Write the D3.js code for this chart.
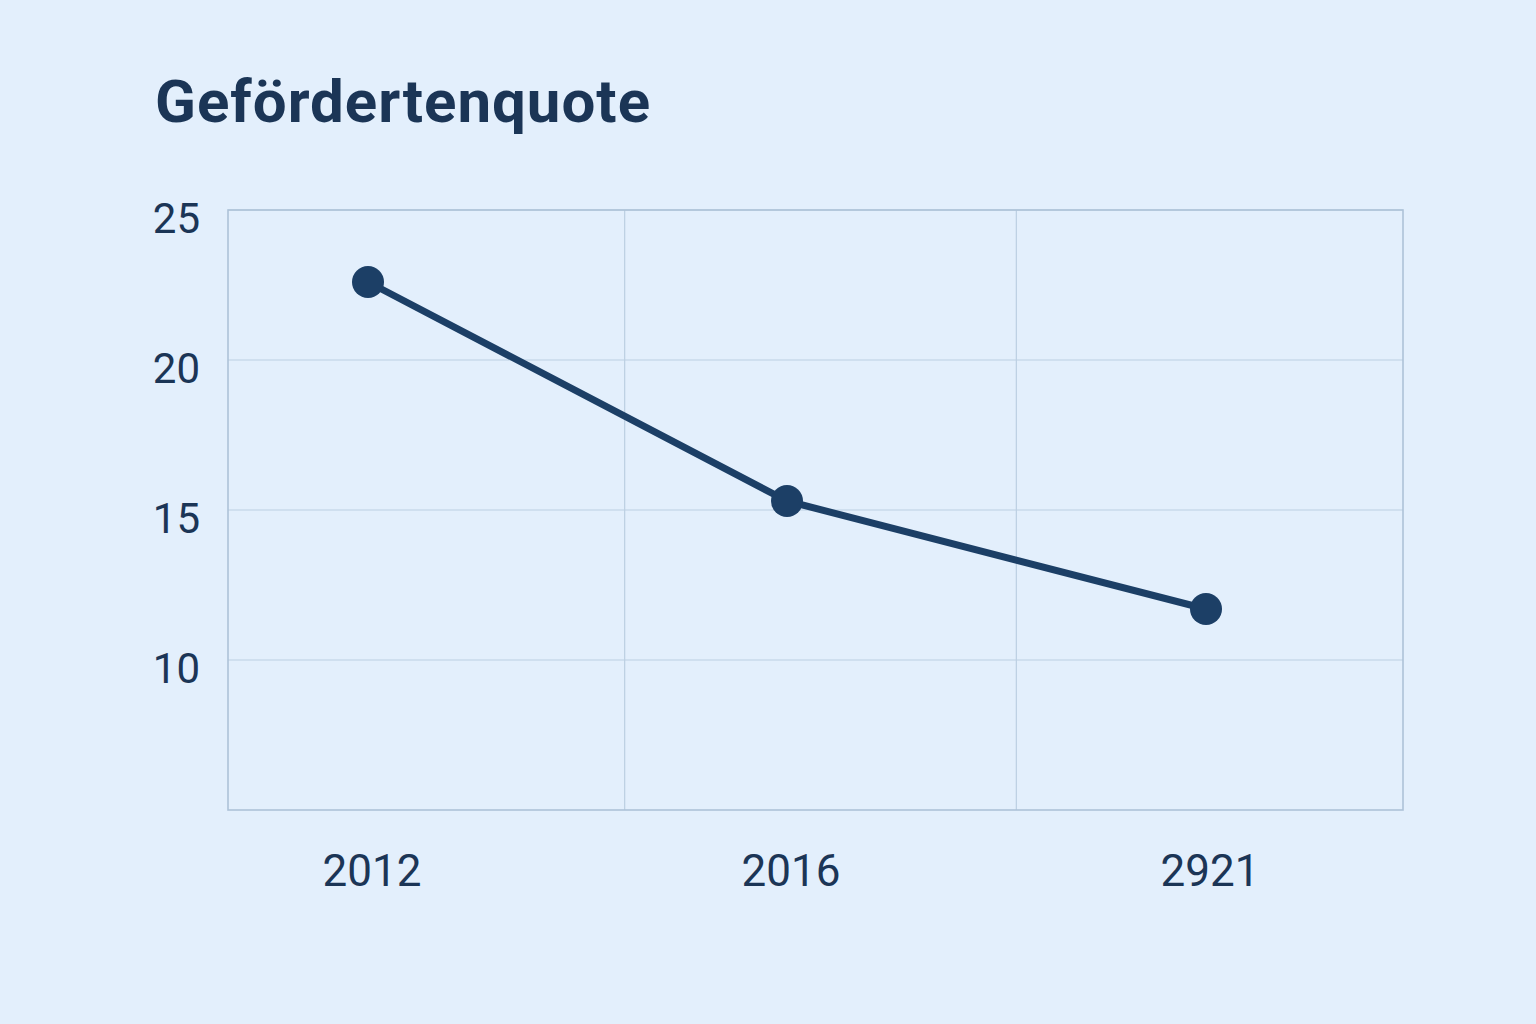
<!DOCTYPE html>
<html>
<head>
<meta charset="utf-8">
<script src="https://cdn.jsdelivr.net/npm/d3@7"></script>
<style>
	html, body { margin: 0; padding: 0; background: #e3effc; }
	svg { display: block; }
</style>
</head>
<body>
<svg></svg>
<script>
const width = 1536;
const height = 1024;

const years = ['2012', '2016', '2921'];
const quote = [22.6, 15.3, 11.7];
const yTicks = [10, 15, 20, 25];
const title = 'Gefördertenquote';

const plotLeft = 228, plotRight = 1403, plotTop = 210, plotBottom = 810;
const navy = '#1c3f66';
const textColor = '#1b3556';
const gridColor = '#bccfe2';

const svg = d3.select('svg')
	.attr('width', width)
	.attr('height', height);

svg.append('rect')
	.attr('width', width)
	.attr('height', height)
	.attr('fill', '#e3effc');

const x = d3.scalePoint()
	.domain(years)
	.range([plotLeft + 140, plotRight - 197]);

const y = d3.scaleLinear()
	.domain([5, 25])
	.range([plotBottom, plotTop]);

// column grid: three equal bands across the plot
const cols = d3.scaleBand()
	.domain(years)
	.range([plotLeft, plotRight]);

svg.append('text')
	.attr('x', 155)
	.attr('y', 122)
	.attr('font-family', 'Roboto, sans-serif')
	.attr('font-weight', 700)
	.attr('font-size', 60)
	.attr('letter-spacing', 1)
	.attr('fill', textColor)
	.text(title);

const grid = svg.append('g');

grid.selectAll('line.h')
	.data(yTicks)
	.enter().append('line')
		.attr('class', 'h')
		.attr('x1', plotLeft)
		.attr('x2', plotRight)
		.attr('y1', d => y(d))
		.attr('y2', d => y(d))
		.attr('stroke', gridColor)
		.attr('stroke-width', 1.2);

grid.selectAll('line.v')
	.data(years.slice(1))
	.enter().append('line')
		.attr('class', 'v')
		.attr('x1', d => cols(d) + 5)
		.attr('x2', d => cols(d) + 5)
		.attr('y1', plotTop)
		.attr('y2', plotBottom)
		.attr('stroke', gridColor)
		.attr('stroke-width', 1.2);

grid.append('rect')
	.attr('x', plotLeft)
	.attr('y', plotTop)
	.attr('width', plotRight - plotLeft)
	.attr('height', plotBottom - plotTop)
	.attr('fill', 'none')
	.attr('stroke', '#adc2d8')
	.attr('stroke-width', 1.6);

svg.append('g')
	.selectAll('text')
	.data(yTicks)
	.enter().append('text')
		.attr('x', 200)
		.attr('y', d => y(d) + 8)
		.attr('dy', '0.35em')
		.attr('text-anchor', 'end')
		.attr('font-family', 'Roboto, sans-serif')
		.attr('font-size', 42)
		.attr('fill', textColor)
		.text(d => d);

svg.append('g')
	.selectAll('text')
	.data(years)
	.enter().append('text')
		.attr('x', d => x(d) + 4)
		.attr('y', 871)
		.attr('dy', '0.35em')
		.attr('text-anchor', 'middle')
		.attr('font-family', 'Roboto, sans-serif')
		.attr('font-size', 44)
		.attr('fill', textColor)
		.text(d => d);

const points = years.map((yr, i) => ({ year: yr, value: quote[i] }));

const line = d3.line()
	.x(d => x(d.year))
	.y(d => y(d.value));

svg.append('path')
	.datum(points)
	.attr('d', line)
	.attr('fill', 'none')
	.attr('stroke', navy)
	.attr('stroke-width', 7)
	.attr('stroke-linejoin', 'round');

svg.append('g')
	.selectAll('circle')
	.data(points)
	.enter().append('circle')
		.attr('cx', d => x(d.year))
		.attr('cy', d => y(d.value))
		.attr('r', 16)
		.attr('fill', navy);
</script>
</body>
</html>
